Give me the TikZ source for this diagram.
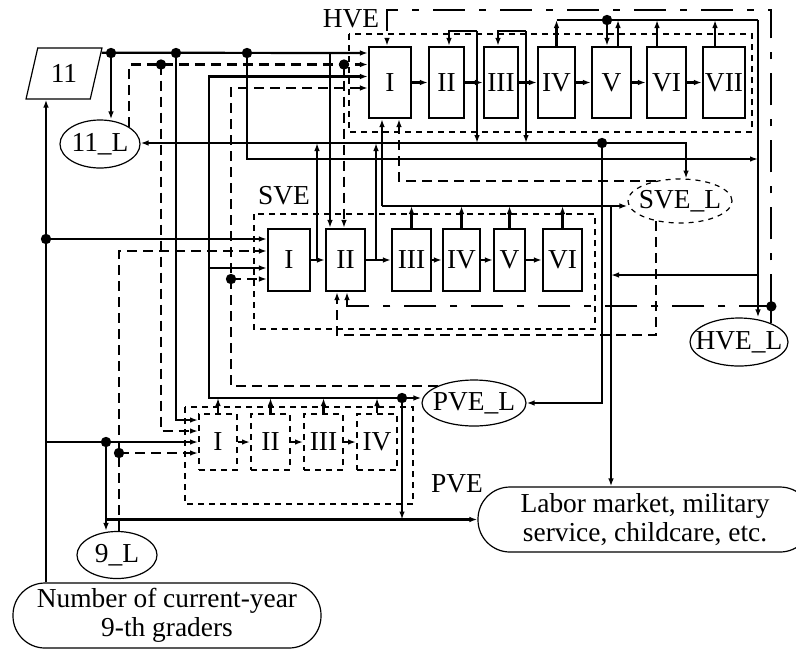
\documentclass[tikz,border=0pt]{standalone}
\usepackage{fontspec}
\setmainfont{Liberation Serif}
\usepackage{tikz}
\usetikzlibrary{arrows.meta,shapes.geometric}

\begin{document}
\begin{tikzpicture}[
    x=0.5pt, y=-0.5pt,
    font=\fontsize{13.7}{14.5}\selectfont,
    stage/.style={rectangle, draw=black, line width=1.1pt, inner sep=0pt},
    hstage/.style={stage, minimum height=35.5pt},
    sstage/.style={stage, minimum height=31pt},
    pstage/.style={stage, minimum height=28pt, line width=1pt, dash pattern=on 3pt off 2.5pt},
    group/.style={draw=black, line width=0.9pt, dash pattern=on 3pt off 2.5pt},
    pool/.style={ellipse, draw=black, line width=0.6pt, inner xsep=-5pt, inner ysep=0pt},
    source/.style={rectangle, draw=black, line width=0.6pt, rounded corners=16pt, align=center, inner sep=2pt},
    para/.style={trapezium, trapezium left angle=72, trapezium right angle=108, trapezium stretches=true, draw=black, line width=0.6pt, inner sep=0pt, minimum width=38pt, minimum height=25.5pt},
    flow/.style={-{Latex[length=4pt,width=2.8pt]}, line width=1.1pt},
    wire/.style={line width=1.1pt},
    dflow/.style={flow, dash pattern=on 5pt off 3pt},
    ddflow/.style={flow, dash pattern=on 16pt off 7pt on 3.5pt off 7pt}
]
\useasboundingbox (0,0) rectangle (796,649);

\node[para] (Eleven) at (64,73.5) {11};
\node[pool, minimum width=40pt, minimum height=24pt] (ElevenL) at (100,144) {11\_L};
\node[pool, minimum width=40pt, minimum height=23.5pt] (NineL) at (117,555) {9\_L};
\node[pool, dash pattern=on 2.5pt off 2.5pt, minimum width=52pt, minimum height=22pt] (SveL) at (680,201) {SVE\_L};
\node[pool, minimum width=49pt, minimum height=24pt] (HveL) at (739,342) {HVE\_L};
\node[pool, minimum width=52pt, minimum height=23pt] (PveL) at (474,403) {PVE\_L};
\node[source, minimum width=154pt, minimum height=32.5pt] (Graders) at (167,615.5) {Number of current-year\\9-th graders};
\node[source, minimum width=167pt, minimum height=32.5pt] (Labor) at (645,519.5) {Labor market, military\\service, childcare, etc.};

\draw[group] (349,34) rectangle (752,132);
\draw[group] (254,214) rectangle (595,329);
\draw[group] (185,407) rectangle (413,504);
\node (HveLabel) at (351,19) {HVE};
\node (SveLabel) at (284,196) {SVE};
\node (PveLabel) at (457,484) {PVE};

\node[hstage, minimum width=21pt] (HveI) at (390,82.5) {I};
\node[hstage, minimum width=17.5pt] (HveII) at (446.5,82.5) {II};
\node[hstage, minimum width=17pt] (HveIII) at (501,82.5) {III};
\node[hstage, minimum width=18.5pt] (HveIV) at (556.5,82.5) {IV};
\node[hstage, minimum width=19.5pt] (HveV) at (611.5,82.5) {V};
\node[hstage, minimum width=19.5pt] (HveVI) at (666.5,82.5) {VI};
\node[hstage, minimum width=21pt] (HveVII) at (724,82.5) {VII};

\node[sstage, minimum width=21pt] (SveI) at (289,260) {I};
\node[sstage, minimum width=19.5pt] (SveII) at (345.5,260) {II};
\node[sstage, minimum width=19.5pt] (SveIII) at (411.5,260) {III};
\node[sstage, minimum width=18.5pt] (SveIV) at (461.5,260) {IV};
\node[sstage, minimum width=15.5pt] (SveV) at (509.5,260) {V};
\node[sstage, minimum width=19.5pt] (SveVI) at (562.5,260) {VI};

\node[pstage, minimum width=19pt] (PveI) at (218,442) {I};
\node[pstage, minimum width=19.5pt] (PveII) at (270.5,442) {II};
\node[pstage, minimum width=19.5pt] (PveIII) at (323.5,442) {III};
\node[pstage, minimum width=20pt] (PveIV) at (377,442) {IV};

\coordinate (HveInA) at ([yshift=14.75pt]HveI.west);
\coordinate (HveInB) at ([yshift=9pt]HveI.west);
\coordinate (HveInC) at ([yshift=3pt]HveI.west);
\coordinate (HveInD) at ([yshift=-2.75pt]HveI.west);
\coordinate (HveInE) at ([xshift=-4pt]HveI.south);
\coordinate (HveInF) at ([xshift=4.5pt]HveI.south);
\coordinate (HveInG) at ([xshift=-1.5pt]HveI.north);
\coordinate (SveInA) at ([yshift=10.5pt]SveI.west);
\coordinate (SveInB) at ([yshift=4.5pt]SveI.west);
\coordinate (SveInC) at ([yshift=-4pt]SveI.west);
\coordinate (SveInD) at ([yshift=-9.5pt]SveI.west);
\coordinate (PveInA) at ([yshift=11pt]PveI.west);
\coordinate (PveInB) at ([yshift=5.5pt]PveI.west);
\coordinate (PveInD) at ([yshift=-5.5pt]PveI.west);
\coordinate (HveVOut) at ([xshift=3.25pt]HveV.north);
\coordinate (HveVIOut) at ([xshift=-4.75pt]HveVI.north);
\coordinate (HveVIIOut) at ([xshift=-4.5pt]HveVII.north);

\coordinate (Split11a) at (111,53);
\coordinate (Split11b) at (176,53);
\coordinate (Split11c) at (247,53);
\coordinate (Tee11) at (330,53);
\coordinate (To11H) at (758,159);
\coordinate (Split9a) at (46,239);
\coordinate (Split9b) at (106,442);
\coordinate (SplitL11a) at (161,64.5);
\coordinate (SplitL11b) at (344,64.5);
\coordinate (SplitL9) at (119,453);
\coordinate (SplitLP) at (231,279);
\coordinate (PveOut) at (402,398);
\coordinate (PveCorner) at (209,398);
\coordinate (SveOut) at (382,206);
\coordinate (SveDown) at (611,206);
\coordinate (Drop) at (602,143);
\coordinate (DropH2) at (477,31);
\coordinate (DropH3) at (526,31);
\coordinate (DropS1) at (317,260);
\coordinate (DropS2) at (376,260);
\coordinate (HveOut) at (758,20);
\coordinate (HveRep) at (607,20);
\coordinate (HveDown) at (758,275);
\coordinate (SveBack) at (337,335);
\coordinate (TopBack) at (771,10);
\coordinate (HveBack) at ([yshift=8.5pt]HveL.30);

\draw[flow] (HveI) -- (HveII);
\draw[flow] (HveII) -- (HveIII);
\draw[flow] (HveIII) -- (HveIV);
\draw[flow] (HveIV) -- (HveV);
\draw[flow] (HveV) -- (HveVI);
\draw[flow] (HveVI) -- (HveVII);
\draw[flow] (SveI) -- (SveII);
\draw[flow] (SveII) -- (SveIII);
\draw[flow] (SveIII) -- (SveIV);
\draw[flow] (SveIV) -- (SveV);
\draw[flow] (SveV) -- (SveVI);
\draw[flow] (PveI) -- (PveII);
\draw[flow] (PveII) -- (PveIII);
\draw[flow] (PveIII) -- (PveIV);

\draw[flow] (Eleven.29) -- (HveInA);
\draw[flow] (Split11a) -- (Split11a |- ElevenL.north);
\draw[flow] (Split11b) |- (PveInA);
\draw[flow] (Split11c) |- (To11H);
\draw[flow] (Tee11) -- (Tee11 |- SveII.north);

\draw[flow] (Graders.north -| Split9a) -- (Eleven.south -| Split9a);
\draw[flow] (Split9a) -- (SveInA);
\draw[flow] (PveI.west -| Split9a) -- (PveI.west);
\draw[flow] (Split9b) -- (Split9b |- NineL.north);
\draw[flow] (Split9b |- Labor.west) -- (Labor.west);

\draw[dflow] (ElevenL.30) |- (HveInB);
\draw[dflow] (SplitL11a) |- (PveInB);
\draw[dflow] (SplitL11b) -- (SplitL11b |- SveII.north);
\draw[dflow] (NineL.north -| SplitL9) |- (SveInB);
\draw[dflow] (SplitL9) -- (PveInD);

\draw[flow] (PveI.north) -- (PveI.north |- PveOut);
\draw[flow] (PveII.north) -- (PveII.north |- PveOut);
\draw[flow] (PveIII.north) -- (PveIII.north |- PveOut);
\draw[flow] (PveIV.north) -- (PveIV.north |- PveOut);
\draw[flow] (PveOut) -- (PveCorner) |- (HveInC);
\draw[flow] (SveInC -| PveCorner) -- (SveInC);
\draw[flow] (PveOut) -- (PveOut -| PveL.west);
\draw[flow] (PveOut) -- (PveOut |- Labor.west);
\draw[dflow] (PveL.155) -| (SplitLP) |- (HveInD);
\draw[dflow] (SplitLP) -- (SveInD);

\draw[flow] (SveIII.north) -- (SveIII.north |- SveOut);
\draw[flow] (SveIV.north) -- (SveIV.north |- SveOut);
\draw[flow] (SveV.north) -- (SveV.north |- SveOut);
\draw[flow] (SveVI.north) -- (SveVI.north |- SveOut);
\draw[flow] (SveOut) -- (SveOut -| SveL.west);
\draw[flow] (SveOut) -- (HveInE);
\draw[flow] (SveDown) -- (SveDown |- Labor.north);

\draw[flow] (Drop) -- (Drop -| ElevenL.east);
\draw[flow] (Drop) -| (SveL.75);
\draw[flow] (Drop) |- (PveL.east);
\draw[flow] (DropH2) -| ([xshift=1.25pt]HveII.north);
\draw[flow] (DropH2) -- (DropH2 |- Drop);
\draw[flow] (DropH3) -| ([xshift=-1.5pt]HveIII.north);
\draw[flow] (DropH3) -- (DropH3 |- Drop);
\draw[flow] (DropS1) -- (DropS1 |- Drop);
\draw[flow] (DropS2) -- (DropS2 |- Drop);

\draw[wire] (HveIV.north |- HveOut) -- (HveOut);
\draw[flow] (HveIV.north) -- (HveIV.north |- HveOut);
\draw[flow] (HveVOut) -- (HveVOut |- HveOut);
\draw[flow] (HveVIOut) -- (HveVIOut |- HveOut);
\draw[flow] (HveVIIOut) -- (HveVIIOut |- HveOut);
\draw[flow] (HveRep) -- (HveRep |- HveV.north);
\draw[flow] (HveOut) -- (HveOut |- HveL.north);
\draw[flow] (HveDown) -- (HveDown -| SveDown);

\draw[wire] (HveL.30) -- (HveBack);
\draw[ddflow] (HveBack) -- (HveBack |- TopBack) -| (HveInG);
\draw[ddflow] (HveBack) -| ([xshift=0.75pt]SveII.south);
\draw[dflow] (SveL.140) -| (HveInF);
\draw[dflow] (SveL.220) |- (SveBack) -- (SveBack |- SveII.south);

\fill (Split11a) circle (2.6pt) (Split11b) circle (2.6pt) (Split11c) circle (2.6pt)
      (Split9a) circle (2.6pt) (Split9b) circle (2.6pt) (SplitL11a) circle (2.6pt)
      (SplitL11b) circle (2.6pt) (SplitL9) circle (2.6pt) (SplitLP) circle (2.6pt)
      (PveOut) circle (2.6pt) (Drop) circle (2.6pt) (HveRep) circle (2.6pt) (HveBack) circle (2.6pt);
\end{tikzpicture}
\end{document}
